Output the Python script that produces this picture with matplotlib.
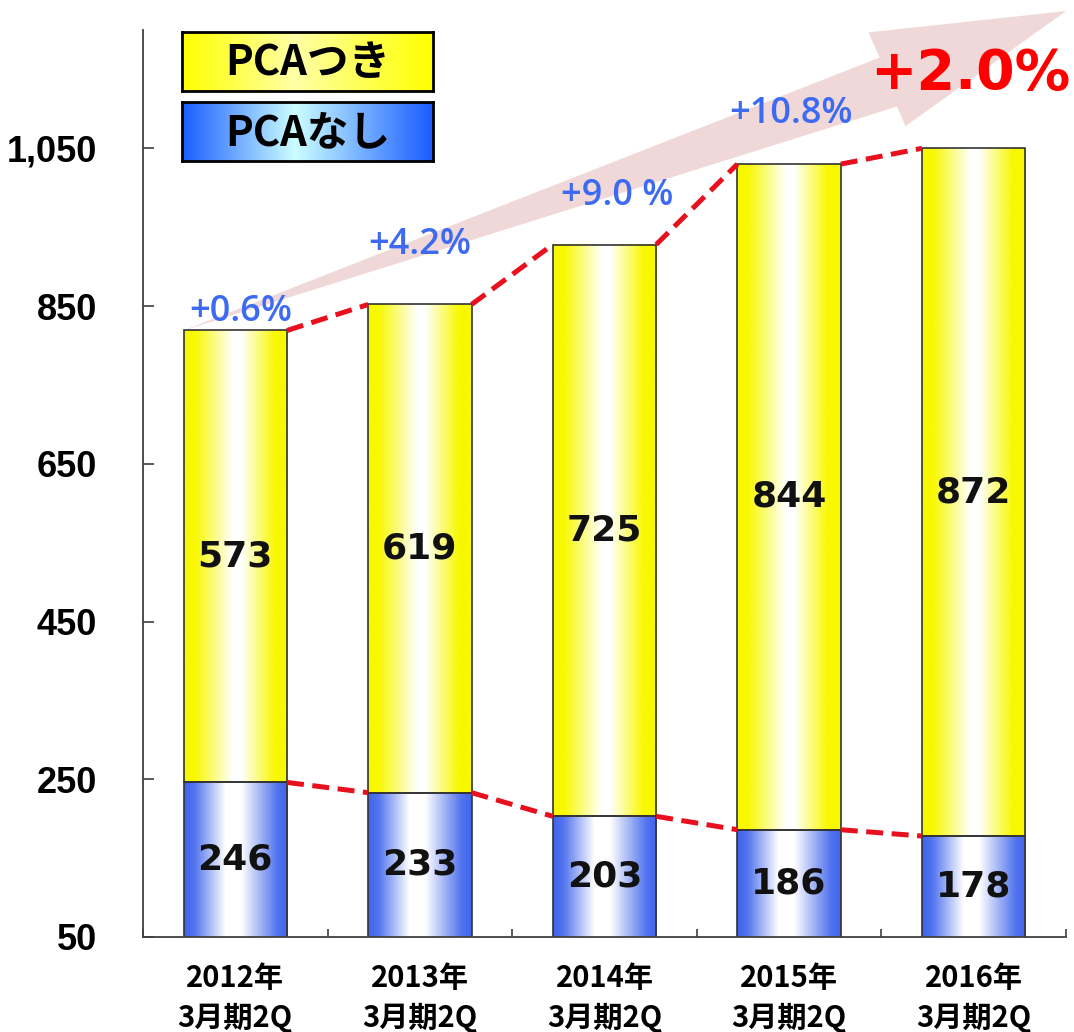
import numpy as np
import matplotlib
matplotlib.use("Agg")
import matplotlib.pyplot as plt
from matplotlib.colors import LinearSegmentedColormap
from matplotlib.patches import Rectangle, Polygon

# ── data ────────────────────────────────────────────────────────────────
periods   = ["2012年\n3月期2Q", "2013年\n3月期2Q", "2014年\n3月期2Q",
             "2015年\n3月期2Q", "2016年\n3月期2Q"]
pca_nashi = [246, 233, 203, 186, 178]   # PCAなし (blue, bottom)
pca_tsuki = [573, 619, 725, 844, 872]   # PCAつき (yellow, top)
growth    = ["+0.6%", "+4.2%", "+9.0 %", "+10.8%", "+2.0%"]
yticks    = [50, 250, 450, 650, 850, 1050]

# label placement (offset above bar top, x shift)
lbl_dy = [23, 76, 61, 63, 94]
lbl_dx = [0.03, 0.0, 0.07, 0.01, -0.02]

CJK = ["Noto Sans CJK JP", "DejaVu Sans"]
W = 0.56

yel_cm  = LinearSegmentedColormap.from_list("yel", [(0, "#f8f800"), (0.1, "#f8f800"), (0.47, "#ffffff"), (0.55, "#ffffff"), (0.88, "#f8f800"), (1, "#f8f800")])
blu_cm  = LinearSegmentedColormap.from_list("blu", [(0, "#3f63ec"), (0.1, "#5274ee"), (0.4, "#ffffff"), (0.55, "#ffffff"), (0.9, "#5274ee"), (1, "#3f63ec")])
yel_leg = LinearSegmentedColormap.from_list("yl", [(0, "#ffff00"), (0.45, "#ffffa6"), (1, "#ffff00")])
blu_leg = LinearSegmentedColormap.from_list("bl", [(0, "#1a5cff"), (0.45, "#ccffff"), (1, "#1a5cff")])
grad = np.linspace(0, 1, 256).reshape(1, -1)

fig = plt.figure(figsize=(10.74, 10.32), dpi=100)
ax = fig.add_axes([143/1074, 95/1032, 923/1074, 907/1032])

x = np.arange(len(periods))
totals = [a + b for a, b in zip(pca_nashi, pca_tsuki)]

# ── background arrow (tail at first bar's top-left corner) ─────────────
arrow = [(x[0] - W/2, totals[0]), (3.49, 1165), (3.43, 1197), (4.5, 1224),
         (3.63, 1078), (3.585, 1103)]
ax.add_patch(Polygon(arrow, closed=True, facecolor="#f0d8d8", edgecolor="none",
                     zorder=0.5, clip_on=False))

# ── gradient bars ───────────────────────────────────────────────────────
for i in x:
    x0, x1 = i - W/2, i + W/2
    ax.imshow(grad, cmap=blu_cm, extent=(x0, x1, 0, pca_nashi[i]),
              aspect="auto", interpolation="bilinear", zorder=1)
    ax.imshow(grad, cmap=yel_cm, extent=(x0, x1, pca_nashi[i], totals[i]),
              aspect="auto", interpolation="bilinear", zorder=1)
    ax.add_patch(Rectangle((x0, 0), W, pca_nashi[i], fill=False, ec="#333333", lw=1.2, zorder=2))
    ax.add_patch(Rectangle((x0, pca_nashi[i]), W, pca_tsuki[i], fill=False, ec="#333333", lw=1.2, zorder=2))
    ax.text(i, (pca_nashi[i] + totals[i]) / 2, str(pca_tsuki[i]), ha="center", va="center",
            fontsize=26, fontweight="bold", color="#111111", zorder=4)
    ax.text(i, (50 + pca_nashi[i]) / 2, str(pca_nashi[i]), ha="center", va="center",
            fontsize=26, fontweight="bold", color="#111111", zorder=4)

# ── red dashed connectors ───────────────────────────────────────────────
for series in (totals, pca_nashi):
    for i in range(len(x) - 1):
        ax.plot([x[i] + W/2, x[i+1] - W/2], [series[i], series[i+1]], color="#e8101e",
                lw=3.6, linestyle=(0, (3.4, 1.7)), solid_capstyle="butt", zorder=3)

# ── growth labels ───────────────────────────────────────────────────────
for i in x:
    ty = totals[i] + lbl_dy[i]
    if i == len(x) - 1:
        ax.text(i + lbl_dx[i], ty, growth[i], ha="center", va="center", fontsize=40,
                fontweight="bold", color="#ff0000", zorder=5, clip_on=False)
    else:
        ax.text(i + lbl_dx[i], ty, growth[i], ha="center", va="center", fontsize=26,
                family=["Open Sans", "Noto Sans"], fontweight="semibold",
                color="#3d6af2", zorder=5, clip_on=False)

# ── axes styling ────────────────────────────────────────────────────────
ax.set_xlim(-0.5, 4.5)
ax.set_ylim(50, 1200)
for s in ("top", "right"):
    ax.spines[s].set_visible(False)
for s in ("left", "bottom"):
    ax.spines[s].set_color("#404040")
    ax.spines[s].set_linewidth(1.3)

ax.set_yticks(yticks)
ax.set_yticklabels([f"{v:,}" for v in yticks], family=["Liberation Sans Narrow", "Liberation Sans"],
                   fontweight="bold", fontsize=26)
ax.tick_params(axis="y", direction="in", length=8, width=1.2, color="#404040", pad=33)

ax.set_xticks(np.arange(-0.5, 4.6, 1.0))
ax.set_xticklabels([])
ax.tick_params(axis="x", which="major", direction="in", length=6, width=1.2, color="#404040")
ax.set_xticks(x, minor=True)
ax.set_xticklabels(periods, minor=True, family=CJK, fontweight="bold", fontsize=21,
                   linespacing=1.4)
ax.tick_params(axis="x", which="minor", length=0, pad=19)

# ── legend boxes ────────────────────────────────────────────────────────
for yb, cm, label in [(941, yel_leg, "PCAつき"), (871, blu_leg, "PCAなし")]:
    lax = fig.add_axes([182/1074, yb/1032, 251/1074, 59/1032])
    lax.imshow(grad, cmap=cm, extent=(0, 1, 0, 1), aspect="auto", interpolation="bilinear")
    lax.set_xticks([]); lax.set_yticks([])
    for s in lax.spines.values():
        s.set_linewidth(2); s.set_color("black")
    lax.text(0.5, 0.47, label, ha="center", va="center", fontsize=30, fontweight="bold",
             family=CJK, transform=lax.transAxes)

fig.savefig("out.png", dpi=100)
